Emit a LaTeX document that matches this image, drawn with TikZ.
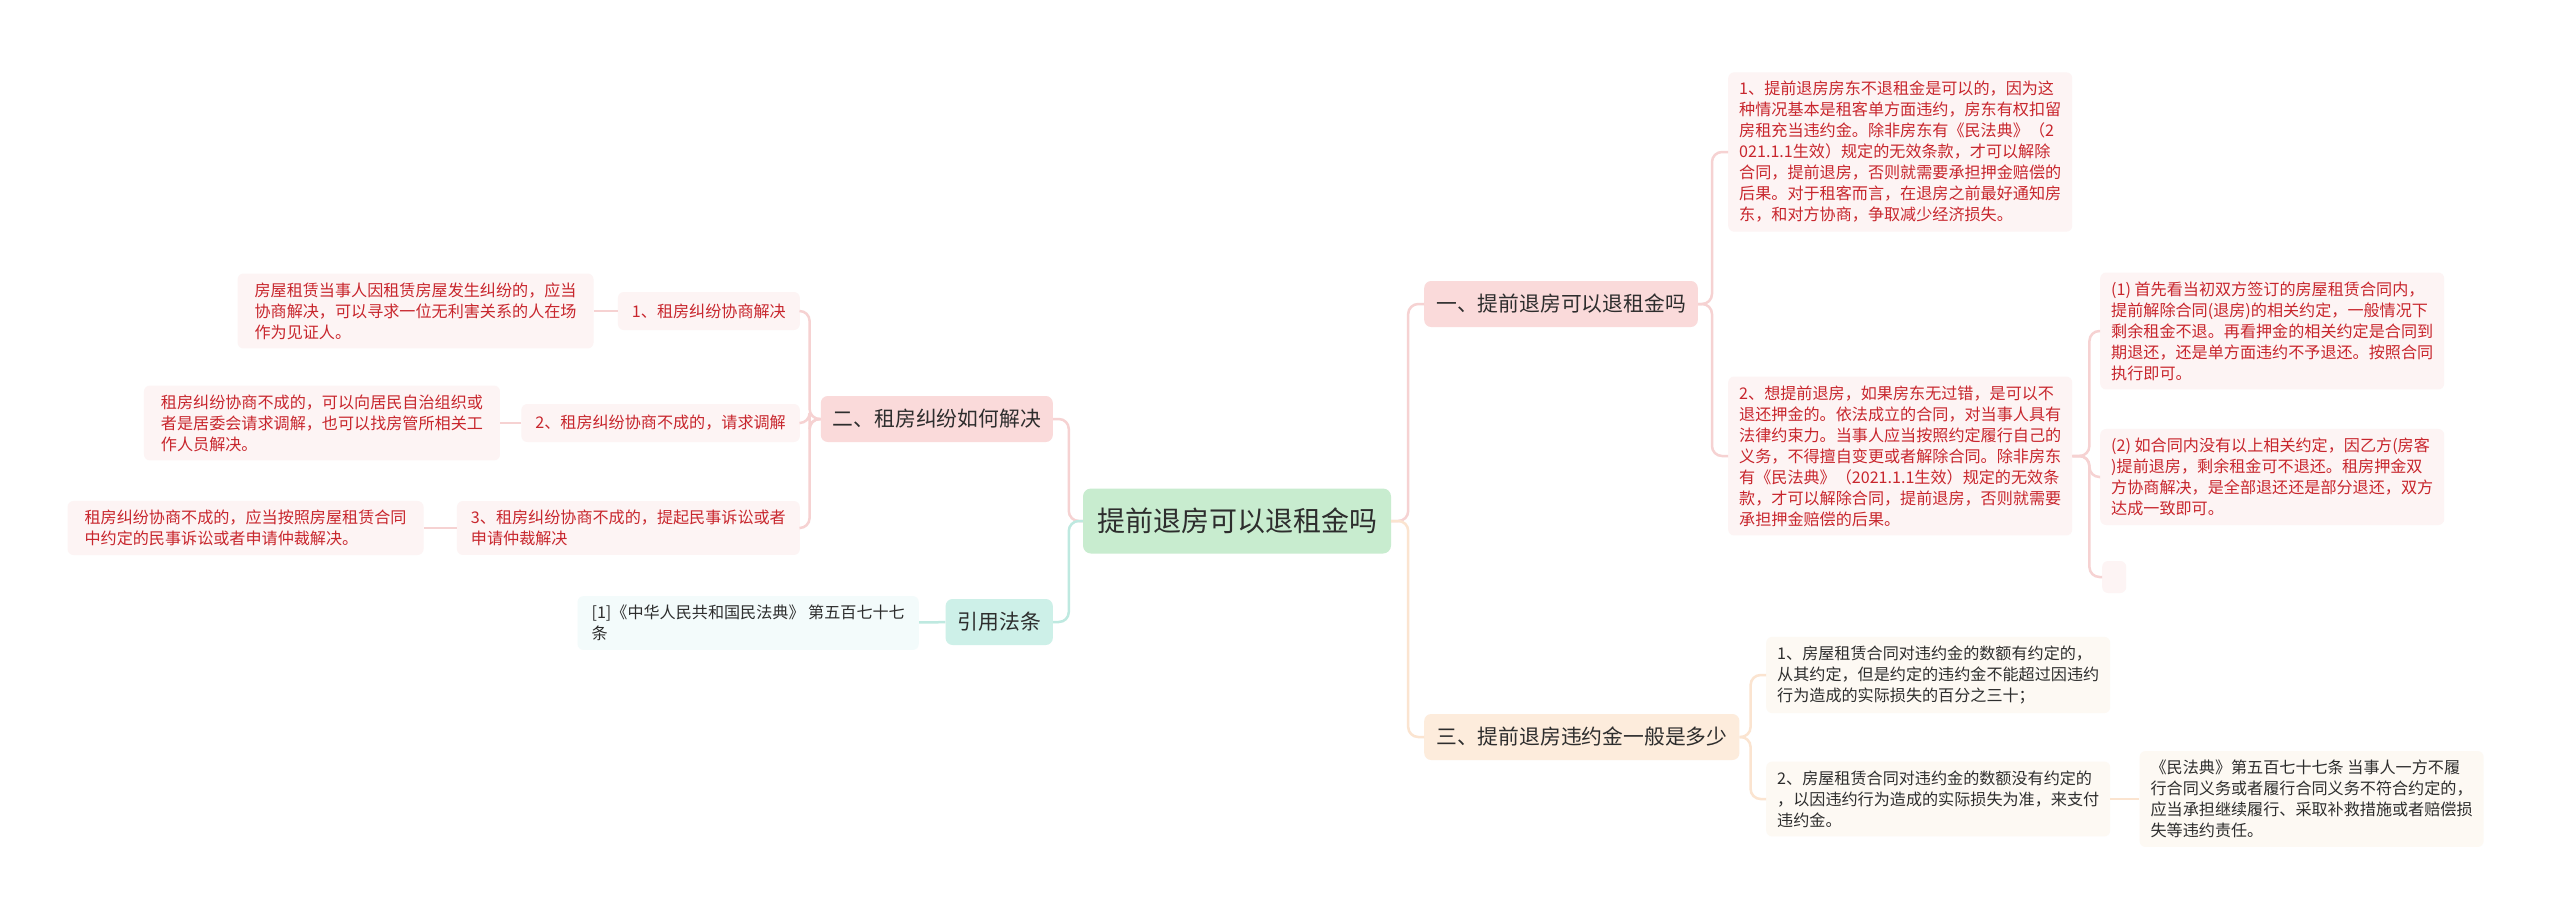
\documentclass[tikz,border=0pt]{standalone}
\usepackage{fontspec}
\setmainfont{Noto Sans CJK SC}
\usepackage{tikz}
\usetikzlibrary{positioning}
\definecolor{rootgreen}{RGB}{200,236,207}
\definecolor{pinkfill}{RGB}{250,218,218}
\definecolor{pinkline}{RGB}{246,210,210}
\definecolor{leafpink}{RGB}{253,244,244}
\definecolor{leafred}{RGB}{200,38,45}
\definecolor{tealfill}{RGB}{205,240,232}
\definecolor{tealline}{RGB}{190,233,224}
\definecolor{leafteal}{RGB}{243,251,251}
\definecolor{peachfill}{RGB}{253,236,220}
\definecolor{peachline}{RGB}{251,228,208}
\definecolor{leafpeach}{RGB}{253,249,243}
\definecolor{inkgray}{RGB}{45,45,45}
\tikzset{
  rootbox/.style={rectangle, fill=rootgreen, rounded corners=8pt, minimum height=65pt,
    inner xsep=14pt, text=inkgray, font=\fontsize{28}{34}\selectfont},
  branch/.style={rectangle, rounded corners=7pt, minimum height=46pt,
    inner xsep=12pt, text=inkgray, font=\fontsize{20.8}{25}\selectfont},
  leaf/.style={rectangle, rounded corners=6pt, inner xsep=11pt, inner ysep=9pt,
    align=left, font=\fontsize{16.1}{21}\selectfont},
  redleaf/.style={leaf, fill=leafpink, text=leafred},
  grayleaf/.style={leaf, fill=leafpeach, text=inkgray},
  citeleaf/.style={leaf, fill=leafteal, text=inkgray},
  pinklink/.style={draw=pinkline, line width=2.5pt, rounded corners=10pt},
  peachlink/.style={draw=peachline, line width=2.5pt, rounded corners=10pt},
  teallink/.style={draw=tealline, line width=2.5pt, rounded corners=10pt},
}
\begin{document}
\begin{tikzpicture}[x=1pt, y=-1pt]

\fill[white] (0,0) rectangle (2560,921);

% ── Root ──
\node[rootbox] (root) at (1237,521) {提前退房可以退租金吗};

% ── Main branches ──
\node[branch, fill=pinkfill, anchor=west] (b1) at (1424,304) {一、提前退房可以退租金吗};
\node[branch, fill=peachfill, anchor=west] (b3) at (1424,737) {三、提前退房违约金一般是多少};
\node[branch, fill=pinkfill, anchor=east] (b2) at (1053,419) {二、租房纠纷如何解决};
\node[branch, fill=tealfill, anchor=east] (b4) at (1053,622) {引用法条};

% ── Branch 1 leaves ──
\node[redleaf, anchor=west] (b1a) at (1728,152) {1、提前退房房东不退租金是可以的，因为这\\种情况基本是租客单方面违约，房东有权扣留\\房租充当违约金。除非房东有《民法典》（2\\021.1.1生效）规定的无效条款，才可以解除\\合同，提前退房，否则就需要承担押金赔偿的\\后果。对于租客而言，在退房之前最好通知房\\东，和对方协商，争取减少经济损失。};
\node[redleaf, anchor=west] (b1b) at (1728,456) {2、想提前退房，如果房东无过错，是可以不\\退还押金的。依法成立的合同，对当事人具有\\法律约束力。当事人应当按照约定履行自己的\\义务，不得擅自变更或者解除合同。除非房东\\有《民法典》（2021.1.1生效）规定的无效条\\款，才可以解除合同，提前退房，否则就需要\\承担押金赔偿的后果。};
\node[redleaf, anchor=west] (b1b1) at (2100,331) {(1) 首先看当初双方签订的房屋租赁合同内，\\提前解除合同(退房)的相关约定，一般情况下\\剩余租金不退。再看押金的相关约定是合同到\\期退还，还是单方面违约不予退还。按照合同\\执行即可。};
\node[redleaf, anchor=west] (b1b2) at (2100,477) {(2) 如合同内没有以上相关约定，因乙方(房客\\)提前退房，剩余租金可不退还。租房押金双\\方协商解决，是全部退还还是部分退还，双方\\达成一致即可。};
\node[redleaf, anchor=west, minimum width=24pt, minimum height=32pt, inner sep=0pt] (b1b3) at (2102,577) {};

% ── Branch 3 leaves ──
\node[grayleaf, anchor=west] (b3a) at (1766,675) {1、房屋租赁合同对违约金的数额有约定的，\\从其约定，但是约定的违约金不能超过因违约\\行为造成的实际损失的百分之三十；};
\node[grayleaf, anchor=west] (b3b) at (1766,799) {2、房屋租赁合同对违约金的数额没有约定的\\，以因违约行为造成的实际损失为准，来支付\\违约金。};
\node[grayleaf, right=29pt of b3b] (b3b1) {《民法典》第五百七十七条 当事人一方不履\\行合同义务或者履行合同义务不符合约定的，\\应当承担继续履行、采取补救措施或者赔偿损\\失等违约责任。};

% ── Branch 2 leaves ──
\node[redleaf, anchor=east, minimum height=38pt, inner xsep=14pt] (b2a) at (800,311) {1、租房纠纷协商解决};
\node[redleaf, anchor=east, minimum height=38pt, inner xsep=14pt] (b2b) at (800,423) {2、租房纠纷协商不成的，请求调解};
\node[redleaf, anchor=east, inner xsep=14pt] (b2c) at (800,528) {3、租房纠纷协商不成的，提起民事诉讼或者\\申请仲裁解决};
\node[redleaf, left=24pt of b2a, inner xsep=17pt] (b2a1) {房屋租赁当事人因租赁房屋发生纠纷的，应当\\协商解决，可以寻求一位无利害关系的人在场\\作为见证人。};
\node[redleaf, left=21pt of b2b, inner xsep=17pt] (b2b1) {租房纠纷协商不成的，可以向居民自治组织或\\者是居委会请求调解，也可以找房管所相关工\\作人员解决。};
\node[redleaf, left=33pt of b2c, inner xsep=17pt] (b2c1) {租房纠纷协商不成的，应当按照房屋租赁合同\\中约定的民事诉讼或者申请仲裁解决。};

% ── Citation ──
\node[citeleaf, anchor=east, inner xsep=14pt] (b4a) at (919,623) {[1]《中华人民共和国民法典》 第五百七十七\\条};

% ── Links ──
\draw[pinklink] (root.east) -- ++(17,0) |- (b1.west);
\draw[peachlink] (root.east) -- ++(17,0) |- (b3.west);
\draw[pinklink] (root.west) -- ++(-14,0) |- (b2.east);
\draw[teallink] (root.west) -- ++(-14,0) |- (b4.east);

\draw[pinklink] (b1.east) -- ++(14,0) |- (b1a.west);
\draw[pinklink] (b1.east) -- ++(14,0) |- (b1b.west);
\draw[pinklink] (b1b.east) -- ++(17,0) |- (b1b1.west);
\draw[pinklink] (b1b.east) -- ++(17,0) |- (b1b2.west);
\draw[pinklink] (b1b.east) -- ++(17,0) |- (b1b3.west);

\draw[peachlink] (b3.east) -- ++(11,0) |- (b3a.west);
\draw[peachlink] (b3.east) -- ++(11,0) |- (b3b.west);
\draw[peachlink] (b3b) -- (b3b1);

\draw[pinklink] (b2.west) -- ++(-11,0) |- (b2a.east);
\draw[pinklink] (b2.west) -- ++(-11,0) |- (b2b.east);
\draw[pinklink] (b2.west) -- ++(-11,0) |- (b2c.east);
\draw[pinklink] (b2a) -- (b2a1);
\draw[pinklink] (b2b) -- (b2b1);
\draw[pinklink] (b2c) -- (b2c1);

\draw[teallink] (b4) -- (b4a);

\end{tikzpicture}
\end{document}
